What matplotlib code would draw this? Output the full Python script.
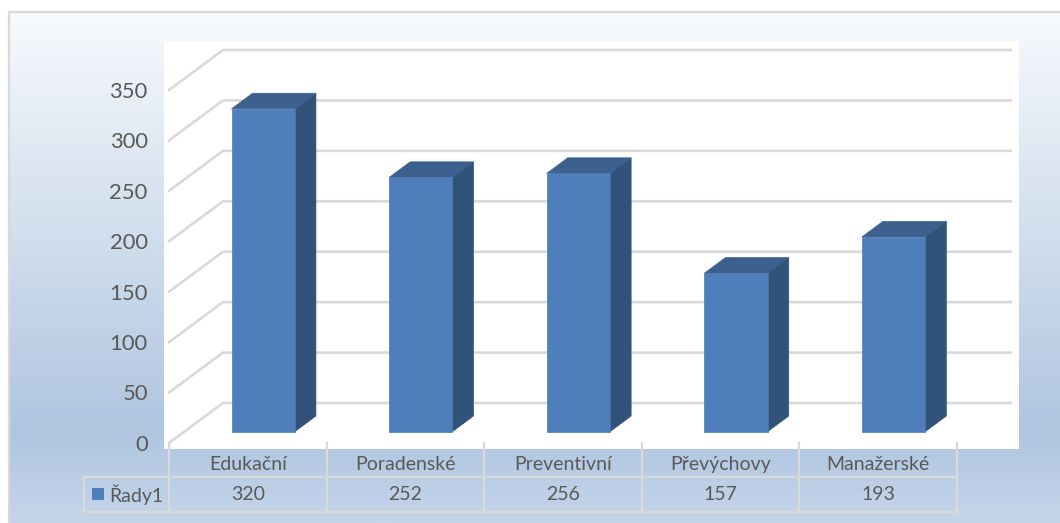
import numpy as np
import matplotlib; matplotlib.use('Agg')
import matplotlib.pyplot as plt
from matplotlib.patches import Polygon, Rectangle
from matplotlib.colors import LinearSegmentedColormap

#===============================================================================
# Data
#===============================================================================
categories = ['Edukační', 'Poradenské', 'Preventivní', 'Převýchovy', 'Manažerské']
values = [320, 252, 256, 157, 193]
series_name = 'Řady1'
ticks = [0, 50, 100, 150, 200, 250, 300, 350]

#===============================================================================
# Set-up
#===============================================================================
W, H = 1060, 523
plt.rcParams['font.family'] = ['Lato', 'DejaVu Sans']
TXT = '#595959'
GRID = '#d9d9d9'
FRONT, TOP, SIDE = '#4e7fbb', '#3c618f', '#325379'

fig = plt.figure(figsize=(W/100, H/100), dpi=100, facecolor='white')

# layout layer in pixels: gradient backdrop, frame, white plot panel
pix = fig.add_axes([0, 0, 1, 1], zorder=0)
pix.set_xlim(0, W); pix.set_ylim(H, 0); pix.axis('off')
cmap = LinearSegmentedColormap.from_list('bg', [(0, '#f7fafd'), (0.31, '#dce6f1'),
                                                (0.82, '#afc5e0'), (1, '#c5d5e9')])
pix.imshow(np.linspace(0, 1, 256)[:, None], cmap=cmap, aspect='auto',
           extent=(9, W, H, 12), zorder=0)
pix.set_xlim(0, W); pix.set_ylim(H, 0)
pix.plot([9, 9, W], [H, 12, 12], color=GRID, lw=1.6, zorder=1, solid_joinstyle='miter')
pix.add_patch(Rectangle((164, 41), 855, 408, fc='white', ec='none', zorder=1))

# chart layer: x is category index, y is value on the front plane of the box
X0, X1, Y0, Y350 = 169, 957, 443, 90
ax = fig.add_axes([X0/W, 1-Y0/H, (X1-X0)/W, (Y0-Y350)/H], zorder=1)
ax.set_xlim(0, len(categories)); ax.set_ylim(0, 350)
ax.axis('off'); ax.patch.set_alpha(0)

DX = 54/((X1-X0)/len(categories))   # box depth in category units
DY = 40/((Y0-Y350)/350.)            # box depth in value units

def proj(x, v, d):
  return (x+d*DX, v+d*DY)

def row(py):
  # value that sits at pixel row py
  return (Y0-py)*350./(Y0-Y350)

#===============================================================================
# Walls
#===============================================================================
n = len(categories)
for t in ticks:
  a = proj(0, t, 0); b = proj(0, t, 1); c = proj(n, t, 1)
  ax.plot([a[0], b[0], c[0]], [a[1], b[1], c[1]], color=GRID, lw=1.9, clip_on=False,
          zorder=1, solid_joinstyle='miter')
  ax.text(-0.135, t-1.8, str(t), ha='right', va='center', fontsize=15.8, color=TXT)

#===============================================================================
# Bars
#===============================================================================
BW = 0.402
D_FRONT, D_BACK = 0.285, 0.675
for i, v in enumerate(values):
  xl = i+0.5-BW/2; xr = xl+BW
  fl = proj(xl, 0, D_FRONT); fr = proj(xr, 0, D_FRONT)
  tl = proj(xl, v, D_FRONT); tr = proj(xr, v, D_FRONT)
  bbr = proj(xr, 0, D_BACK); btr = proj(xr, v, D_BACK); btl = proj(xl, v, D_BACK)
  ax.add_patch(Polygon([fr, bbr, btr, tr], fc=SIDE, ec=SIDE, lw=0.5, zorder=3, clip_on=False))
  ax.add_patch(Polygon([tl, tr, btr, btl], fc=TOP, ec=TOP, lw=0.5, zorder=3, clip_on=False))
  ax.add_patch(Polygon([fl, fr, tr, tl], fc=FRONT, ec='#4a78b0', lw=0.5, zorder=4, clip_on=False))

#===============================================================================
# Data table under the chart
#===============================================================================
R_TOP, R_MID, R_BOT = 443, 477, 512
for i in range(n+1):
  ax.plot([i, i], [row(R_TOP), row(R_BOT)], color=GRID, lw=1.6, clip_on=False, zorder=2)
for py in (R_MID, R_BOT):
  pix.plot([84, X1], [py, py], color=GRID, lw=1.6, zorder=2)
pix.plot([84, 84], [R_MID, R_BOT], color=GRID, lw=1.6, zorder=2)

for i, (c, v) in enumerate(zip(categories, values)):
  ax.text(i+0.5, row(464.5), c, ha='center', va='center', fontsize=14, color=TXT, clip_on=False)
  ax.text(i+0.5, row(495), str(v), ha='center', va='center', fontsize=14, color=TXT, clip_on=False)

pix.add_patch(Rectangle((92, 488), 12, 12, fc=FRONT, ec='none', zorder=3))
pix.text(109, 495, series_name, ha='left', va='center', fontsize=14, color=TXT)

fig.savefig('out.png', dpi=100, facecolor='white')
